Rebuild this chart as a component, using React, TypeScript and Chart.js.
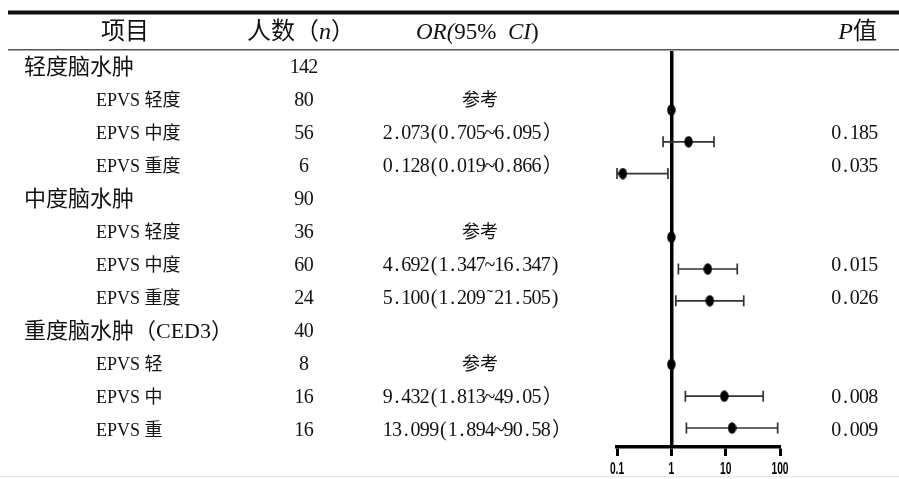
import React, { useEffect, useRef } from 'react';
import { Chart, registerables } from 'chart.js';

Chart.register(...registerables);

const W = 899;
const H = 479;

// ---- table data ----
const rowLabels = [
  '轻度脑水肿', 'EPVS 轻度', 'EPVS 中度', 'EPVS 重度',
  '中度脑水肿', 'EPVS 轻度', 'EPVS 中度', 'EPVS 重度',
  '重度脑水肿（CED3）', 'EPVS 轻', 'EPVS 中', 'EPVS 重',
];
const isGroupRow = [true, false, false, false, true, false, false, false, true, false, false, false];
const counts = ['142', '80', '56', '6', '90', '36', '60', '24', '40', '8', '16', '16'];
const orLabels = [
  '', '参考', '2.073(0.705~6.095）', '0.128(0.019~0.866）',
  '', '参考', '4.692(1.347~16.347)', '5.100(1.209˜21.505)',
  '', '参考', '9.432(1.813~49.05）', '13.099(1.894~90.58）',
];
const pLabels = ['', '', '0.185', '0.035', '', '', '0.015', '0.026', '', '', '0.008', '0.009'];

// ---- forest plot data ----
const orValues = [1, 2.073, 0.128, 1, 4.692, 5.1, 1, 9.432, 13.099];
const ciLow: (number | null)[] = [null, 0.705, 0.019, null, 1.347, 1.209, null, 1.813, 1.894];
const ciHigh: (number | null)[] = [null, 6.095, 0.866, null, 16.347, 21.505, null, 49.05, 90.58];
const forestPos = [0, 1, 2, 4, 5, 6, 8, 9, 10];
const xTicks = [0.1, 1, 10, 100];
const xTickLabels = ['0.1', '1', '10', '100'];

const X_MIN = 0.1;
const X_MAX = 100;

const SERIF = '"Liberation Serif", "Noto Sans CJK SC", serif';

type Run = { t: string; i?: boolean };

function fontOf(size: number, italic?: boolean) {
  return `${italic ? 'italic ' : ''}${size}px ${SERIF}`;
}

function drawRuns(ctx: CanvasRenderingContext2D, runs: Run[], x: number, y: number, align: 'left' | 'center' | 'right', size: number) {
  let total = 0;
  const widths = runs.map((r) => {
    ctx.font = fontOf(size, r.i);
    const w = ctx.measureText(r.t).width;
    total += w;
    return w;
  });
  let cx = align === 'left' ? x : align === 'center' ? x - total / 2 : x - total;
  ctx.textAlign = 'left';
  ctx.textBaseline = 'middle';
  runs.forEach((r, k) => {
    ctx.font = fontOf(size, r.i);
    ctx.fillText(r.t, cx, y);
    cx += widths[k];
  });
}

// fixed-advance text (half-width cells for ASCII, full-width cells otherwise)
function drawCells(ctx: CanvasRenderingContext2D, text: string, x: number, y: number, align: 'left' | 'center' | 'right', size: number, cell: number) {
  const chars = Array.from(text);
  const adv = chars.map((c) => (c.charCodeAt(0) < 0x2000 ? cell : cell * 2));
  const total = adv.reduce((a, b) => a + b, 0);
  let cx = align === 'left' ? x : align === 'center' ? x - total / 2 : x - total;
  ctx.font = fontOf(size);
  ctx.textAlign = 'center';
  ctx.textBaseline = 'middle';
  chars.forEach((c, k) => {
    const a = adv[k];
    const off = c === '）' ? a * 0.12 : 0;
    ctx.fillText(c, cx + a / 2 + off, y);
    cx += a;
  });
}

function makeDot() {
  const c = document.createElement('canvas');
  c.width = 9;
  c.height = 12;
  const g = c.getContext('2d')!;
  g.fillStyle = '#000';
  g.beginPath();
  g.ellipse(4.5, 6, 4.2, 5.8, 0, 0, Math.PI * 2);
  g.fill();
  return c;
}

const tablePlugin = {
  id: 'forestTable',
  beforeDraw(chart: any) {
    const ctx = chart.ctx as CanvasRenderingContext2D;
    ctx.save();
    ctx.fillStyle = '#fff';
    ctx.fillRect(0, 0, chart.width, chart.height);
    ctx.restore();
  },
  afterDraw(chart: any) {
    const ctx = chart.ctx as CanvasRenderingContext2D;
    ctx.save();
    // rules
    ctx.fillStyle = '#111';
    ctx.fillRect(8, 10.5, W - 8, 4);
    ctx.fillStyle = '#555';
    ctx.fillRect(8, 49, W - 8, 1.5);
    ctx.fillStyle = '#e6e6e6';
    ctx.fillRect(0, 476, W, 1);

    ctx.fillStyle = '#111';
    // header
    const hy = 33;
    drawRuns(ctx, [{ t: '项目' }], 125, hy, 'center', 24);
    drawRuns(ctx, [{ t: '人数（' }, { t: 'n', i: true }, { t: '）' }], 301, hy, 'center', 24);
    drawRuns(ctx, [{ t: 'OR(', i: true }, { t: '95%  ' }, { t: 'CI', i: true }, { t: ')' }], 416, hy, 'left', 23);
    drawRuns(ctx, [{ t: 'P', i: true }, { t: '值' }], 877, hy, 'right', 24);

    // rows
    rowLabels.forEach((lab, i) => {
      const y = 68 + 33 * i;
      if (isGroupRow[i]) {
        drawRuns(ctx, [{ t: lab }], 24, y, 'left', 22);
      } else {
        drawRuns(ctx, [{ t: lab }], 96, y, 'left', 18);
      }
      drawCells(ctx, counts[i], 304, y, 'center', 20, 9.3);
      const o = orLabels[i];
      if (o === '参考') {
        drawRuns(ctx, [{ t: o }], 480, y, 'center', 18);
      } else if (o) {
        drawCells(ctx, o, 383, y, 'left', 20, 9.3);
      }
      if (pLabels[i]) drawCells(ctx, pLabels[i], 878, y, 'right', 20, 9.3);
    });

    // x tick labels (bold, condensed) placed by the log scale
    const xs = chart.scales.x;
    ctx.font = 'bold 17px "Liberation Sans", Arial, sans-serif';
    ctx.textAlign = 'center';
    ctx.textBaseline = 'middle';
    ctx.fillStyle = '#000';
    xTicks.forEach((v, k) => {
      const px = xs.getPixelForValue(v);
      ctx.save();
      ctx.translate(px, 469);
      ctx.scale(0.6, 1);
      ctx.fillText(xTickLabels[k], 0, 0);
      ctx.restore();
    });
    ctx.restore();
  },
};

export default function App() {
  const ref = useRef<HTMLCanvasElement | null>(null);

  useEffect(() => {
    const canvas = ref.current;
    if (!canvas) return;
    const dot = makeDot();

    const ciSets = orValues
      .map((_, k) => {
        const lo = ciLow[k];
        const hi = ciHigh[k];
        if (lo == null || hi == null) return null;
        return {
          type: 'line' as const,
          data: [
            { x: Math.max(lo, X_MIN), y: forestPos[k] },
            { x: Math.min(hi, X_MAX), y: forestPos[k] },
          ],
          borderColor: '#333',
          borderWidth: 1.7,
          pointStyle: 'line' as const,
          pointRotation: 90,
          pointRadius: 5.5,
          pointHoverRadius: 5.5,
          pointBorderColor: '#333',
          pointBorderWidth: 1.7,
          showLine: true,
          clip: false as any,
          order: 2,
        };
      })
      .filter(Boolean) as any[];

    const chart = new Chart(canvas, {
      type: 'scatter',
      data: {
        datasets: [
          ...ciSets,
          {
            type: 'scatter',
            data: orValues.map((v, k) => ({ x: v, y: forestPos[k] })),
            pointStyle: dot as any,
            pointRadius: 5,
            backgroundColor: '#000',
            borderColor: '#000',
            clip: false as any,
            order: 1,
          },
        ],
      },
      options: {
        animation: false,
        responsive: false,
        devicePixelRatio: 1,
        layout: { padding: { left: 617, right: W - 780, top: 53, bottom: 0 } },
        plugins: { legend: { display: false }, tooltip: { enabled: false } },
        events: [],
        scales: {
          x: {
            type: 'logarithmic',
            min: X_MIN,
            max: X_MAX,
            afterBuildTicks: (s: any) => {
              s.ticks = xTicks.map((v) => ({ value: v }));
            },
            afterFit: (s: any) => {
              s.height = 32;
            },
            ticks: {
              display: false,
              autoSkip: false,
              callback: (_v: any, i: number) => xTickLabels[i],
            },
            grid: { drawOnChartArea: false, drawTicks: true, tickLength: 9, tickWidth: 3, tickColor: '#000' },
            border: { display: true, width: 3.5, color: '#000' },
          },
          y: {
            type: 'linear',
            position: { x: 1 } as any,
            reverse: true,
            min: -1.7925,
            max: 10.597,
            ticks: { display: false },
            grid: { display: false },
            border: { display: true, width: 3.5, color: '#000' },
          },
        },
      },
      plugins: [tablePlugin],
    } as any);

    return () => chart.destroy();
  }, []);

  return (
    <div style={{ position: 'absolute', left: 0, top: 0, width: W, height: H }}>
      <canvas ref={ref} width={W} height={H} style={{ display: 'block', width: W, height: H }} />
    </div>
  );
}
